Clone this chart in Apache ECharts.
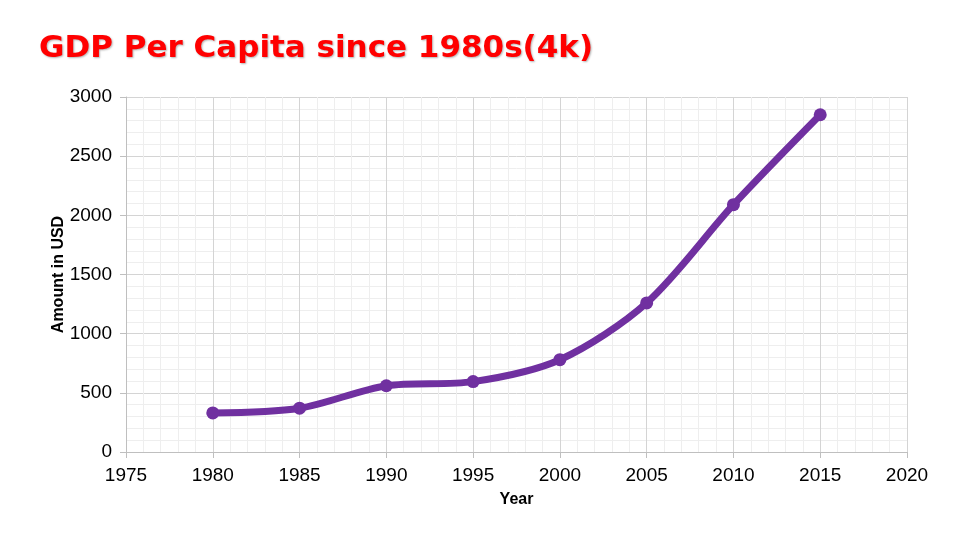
<!DOCTYPE html>
<html><head><meta charset="utf-8">
<script src="https://cdn.jsdelivr.net/npm/echarts@6/dist/echarts.min.js"></script>
<style>html,body{margin:0;padding:0;background:#fff}#c{width:960px;height:540px}</style>
</head><body><div id="c"></div>
<script>
const years = [1980, 1985, 1990, 1995, 2000, 2005, 2010, 2015];
const gdp = [330, 370, 560, 595, 780, 1260, 2090, 2850];
const titleText = 'GDP Per Capita since 1980s(4k)';
const xName = 'Year';
const yName = 'Amount in USD';

const chart = echarts.init(document.getElementById('c'));
chart.setOption({
  animation: false,
  title: {
    text: titleText, left: 34, top: 28,
    textStyle: { color: '#ff0000', fontSize: 31, fontWeight: 'bold', fontFamily: 'DejaVu Sans',
      textShadowColor: 'rgba(0,0,0,0.3)', textShadowBlur: 2, textShadowOffsetX: 1, textShadowOffsetY: 1 }
  },
  grid: { left: 126, right: 53, top: 97, bottom: 88 },
  xAxis: {
    type: 'value', min: 1975, max: 2020, interval: 5,
    name: xName, nameLocation: 'middle', nameGap: 40,
    nameTextStyle: { color: '#000', fontSize: 16, fontWeight: 'bold', fontFamily: 'Liberation Sans' },
    axisLine: { show: true, lineStyle: { color: '#bfbfbf' } },
    axisTick: { show: true, length: 6, lineStyle: { color: '#bfbfbf' } },
    axisLabel: { color: '#000', fontSize: 19, fontFamily: 'Liberation Sans', margin: 14, formatter: v => String(v) },
    splitLine: { show: true, lineStyle: { color: '#d4d4d4' } },
    minorTick: { show: false, splitNumber: 5 },
    minorSplitLine: { show: true, lineStyle: { color: '#eeeeee' } }
  },
  yAxis: {
    type: 'value', min: 0, max: 3000, interval: 500,
    name: yName, nameLocation: 'middle', nameGap: 59, nameRotate: 90, nameMoveOverlap: false,
    nameTextStyle: { color: '#000', fontSize: 16, fontWeight: 'bold', fontFamily: 'Liberation Sans' },
    axisLine: { show: true, lineStyle: { color: '#bfbfbf' } },
    axisTick: { show: true, length: 6, lineStyle: { color: '#bfbfbf' } },
    axisLabel: { color: '#000', fontSize: 19, fontFamily: 'Liberation Sans', margin: 14, formatter: v => String(v) },
    splitLine: { show: true, lineStyle: { color: '#d4d4d4' } },
    minorTick: { show: false, splitNumber: 5 },
    minorSplitLine: { show: true, lineStyle: { color: '#eeeeee' } }
  },
  series: [{
    type: 'line', smooth: 0.3,
    data: years.map((y, i) => [y, gdp[i]]),
    symbol: 'circle', symbolSize: 13,
    lineStyle: { color: '#7030a0', width: 7 },
    itemStyle: { color: '#7030a0' }
  }]
});
</script></body></html>
